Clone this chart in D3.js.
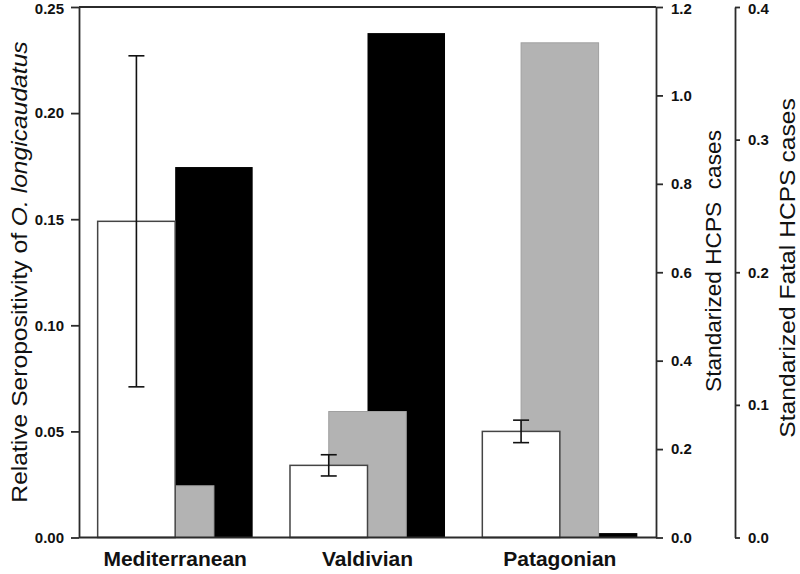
<!DOCTYPE html>
<html>
<head>
<meta charset="utf-8">
<script src="https://cdn.jsdelivr.net/npm/d3@7"></script>
<style>
  html, body { margin: 0; padding: 0; background: #fff; }
  svg { display: block; font-family: "Liberation Sans", Arial, sans-serif; }
</style>
</head>
<body>
<svg id="chart" width="800" height="574"></svg>
<script>
// ---- data ----
const categories = ["Mediterranean", "Valdivian", "Patagonian"];
const seropositivity = [0.149, 0.034, 0.050];
const seroError = [0.078, 0.005, 0.0053];
const hcpsCases = [0.838, 1.141, 0.010];
const fatalCases = [0.039, 0.095, 0.373];
const seroTicks = [0, 0.05, 0.10, 0.15, 0.20, 0.25];
const hcpsTicks = [0, 0.2, 0.4, 0.6, 0.8, 1.0, 1.2];
const fatalTicks = [0, 0.1, 0.2, 0.3, 0.4];

// ---- layout ----
const svg = d3.select("#chart");
const pLeft = 79, pRight = 656, pTop = 7, pBottom = 537.5;
const fatalX = 735;
const axisColor = "#2b2b2b";

const x = d3.scaleBand().domain(categories).range([pLeft, pRight]);
const ySero = d3.scaleLinear().domain([0, 0.25]).range([pBottom, pTop]);
const yHcps = d3.scaleLinear().domain([0, 1.2]).range([pBottom, pTop]);
const yFatal = d3.scaleLinear().domain([0, 0.4]).range([pBottom, pTop]);
const w = x.bandwidth() * 0.403;
const cx = c => x(c) + x.bandwidth() / 2;

const rows = categories.map((c, i) => ({
  c, sero: seropositivity[i], err: seroError[i], hcps: hcpsCases[i], fatal: fatalCases[i]
}));

// black bars (HCPS cases)
svg.append("g").selectAll("rect").data(rows).join("rect")
  .attr("x", d => cx(d.c))
  .attr("width", w)
  .attr("y", d => yHcps(d.hcps))
  .attr("height", d => pBottom - yHcps(d.hcps))
  .attr("fill", "#000");

// grey bars (fatal cases)
svg.append("g").selectAll("rect").data(rows).join("rect")
  .attr("x", d => cx(d.c) - w / 2)
  .attr("width", w)
  .attr("y", d => yFatal(d.fatal))
  .attr("height", d => pBottom - yFatal(d.fatal))
  .attr("fill", "#b3b3b3")
  .attr("stroke", "#a0a0a0")
  .attr("stroke-width", 1);

// white bars (seropositivity)
svg.append("g").selectAll("rect").data(rows).join("rect")
  .attr("x", d => cx(d.c) - w)
  .attr("width", w)
  .attr("y", d => ySero(d.sero))
  .attr("height", d => pBottom - ySero(d.sero))
  .attr("fill", "#fff")
  .attr("stroke", "#444")
  .attr("stroke-width", 1.5);

// error bars
const eg = svg.append("g").attr("stroke", "#111").attr("stroke-width", 1.6);
rows.forEach(d => {
  const ex = cx(d.c) - w / 2;
  const y1 = ySero(d.sero + d.err), y2 = ySero(d.sero - d.err);
  eg.append("line").attr("x1", ex).attr("x2", ex).attr("y1", y1).attr("y2", y2);
  eg.append("line").attr("x1", ex - 8).attr("x2", ex + 8).attr("y1", y1).attr("y2", y1);
  eg.append("line").attr("x1", ex - 8).attr("x2", ex + 8).attr("y1", y2).attr("y2", y2);
});

// frame top & bottom
svg.append("line").attr("x1", pLeft).attr("x2", pRight).attr("y1", pTop).attr("y2", pTop)
  .attr("stroke", axisColor).attr("stroke-width", 1.8);
svg.append("line").attr("x1", pLeft).attr("x2", pRight).attr("y1", pBottom).attr("y2", pBottom)
  .attr("stroke", axisColor).attr("stroke-width", 1.8);

function styleAxis(g) {
  g.selectAll(".domain").attr("stroke", axisColor).attr("stroke-width", 1.8);
  g.selectAll(".tick line").attr("stroke", axisColor).attr("stroke-width", 1.8);
  g.selectAll(".tick text").attr("fill", "#111")
    .style("font-family", "'Liberation Sans', Arial, sans-serif")
    .style("font-size", "15px").style("font-weight", "bold");
  // keep the top-most label inside the picture
  g.selectAll(".tick:last-of-type text").attr("dy", "0.42em");
}

// left axis
svg.append("g").attr("transform", `translate(${pLeft},0)`)
  .call(d3.axisLeft(ySero).tickValues(seroTicks).tickFormat(d3.format(".2f"))
    .tickSize(8).tickSizeOuter(0).tickPadding(7))
  .call(styleAxis);

// right HCPS axis
svg.append("g").attr("transform", `translate(${pRight},0)`)
  .call(d3.axisRight(yHcps).tickValues(hcpsTicks).tickFormat(d3.format(".1f"))
    .tickSize(7).tickSizeOuter(0).tickPadding(8))
  .call(styleAxis);

// fatal axis
svg.append("g").attr("transform", `translate(${fatalX},0)`)
  .call(d3.axisRight(yFatal).tickValues(fatalTicks).tickFormat(d3.format(".1f"))
    .tickSize(5).tickSizeOuter(0).tickPadding(8))
  .call(styleAxis);

// category labels
svg.append("g").selectAll("text").data(categories).join("text")
  .attr("x", d => cx(d))
  .attr("y", 566)
  .attr("text-anchor", "middle")
  .style("font-size", "21px").style("font-weight", "bold").attr("fill", "#111")
  .text(d => d);

// axis titles
const lt = svg.append("text")
  .attr("transform", `translate(27,272) rotate(-90) scale(1.12,1)`)
  .attr("text-anchor", "middle")
  .style("font-size", "22px").attr("fill", "#111");
lt.append("tspan").text("Relative Seropositivity of ");
lt.append("tspan").style("font-style", "italic").text("O. longicaudatus");

svg.append("text")
  .attr("transform", `translate(721,261) rotate(-90) scale(1.03,1)`)
  .attr("text-anchor", "middle")
  .style("white-space", "pre")
  .style("font-size", "22px").attr("fill", "#111")
  .text("Standarized HCPS  cases");

svg.append("text")
  .attr("transform", `translate(795,268) rotate(-90) scale(1.12,1)`)
  .attr("text-anchor", "middle")
  .style("font-size", "22px").attr("fill", "#111")
  .text("Standarized Fatal HCPS cases");
</script>
</body>
</html>
